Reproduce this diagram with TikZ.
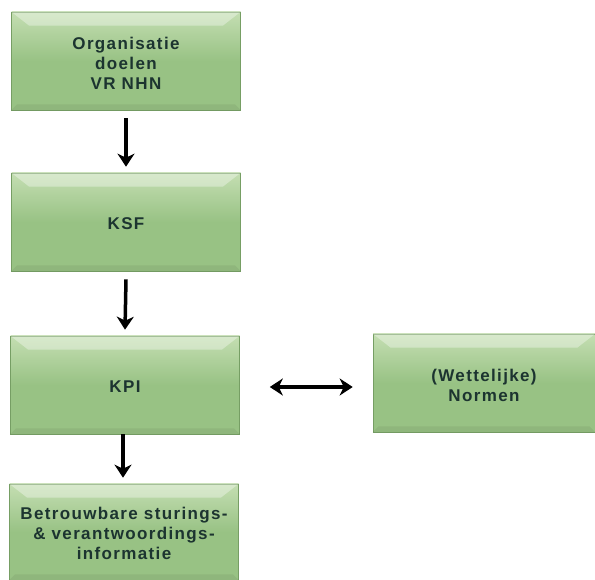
\documentclass[tikz,border=0pt]{standalone}
\usepackage{fontspec}
\setmainfont{Liberation Sans}
\newfontfamily\boxfont[LetterSpace=8]{Liberation Sans}
\usetikzlibrary{arrows.meta}
\definecolor{boxgreen}{RGB}{152,194,132}
\definecolor{boxlight}{RGB}{196,222,178}
\definecolor{boxdark}{RGB}{118,158,100}
\definecolor{txtgreen}{RGB}{28,52,48}
\tikzset{
  box/.style={minimum width=229pt, minimum height=98pt, inner sep=0pt,
    top color=boxlight, bottom color=boxgreen, middle color=boxgreen,
    draw=boxdark, line width=0.6pt},
  label/.style={inner sep=0pt,
    font=\boxfont\bfseries\fontsize{17}{20}\selectfont, text=txtgreen, align=center},
  conn/.style={line width=3.5pt, -{Stealth[length=13pt,width=17pt,inset=4pt]}},
}
\begin{document}
\begin{tikzpicture}[x=1pt,y=1pt]
\useasboundingbox[fill=white] (0,0) rectangle (595,580);
\node[box] (org) at (126,519) {};
\node[box] (ksf) at (126,358) {};
\node[box] (kpi) at (125,195) {};
\node[box, minimum width=222pt] (norm) at (484,197) {};
\node[box, minimum height=96pt] (info) at (124,48) {};
\foreach \n in {org,ksf,kpi,norm,info}{
  \fill[white,opacity=0.35] (\n.north west) -- (\n.north east) -- ([shift={(-18,-14)}]\n.north east) -- ([shift={(18,-14)}]\n.north west) -- cycle;
  \fill[black,opacity=0.06] (\n.south west) -- (\n.south east) -- ([shift={(-6,6)}]\n.south east) -- ([shift={(6,6)}]\n.south west) -- cycle;
}
\node[label] (orgt) at ([yshift=-2pt]org) {Organisatie\\doelen\\VR NHN};
\node[label] (ksft) at ([yshift=-2pt]ksf) {KSF};
\node[label] (kpit) at ([yshift=-2pt]kpi) {KPI};
\node[label] (normt) at ([yshift=-2pt]norm) {(Wettelijke)\\Normen};
\node[label] (infot) at ([yshift=-1pt]info) {Betrouwbare sturings-\\\& verantwoordings-\\informatie};
\coordinate (a1) at ([yshift=-8pt]org.south);
\coordinate (b1) at ([yshift=6pt]ksf.north);
\draw[conn] (a1) -- (b1);
\coordinate (a2) at ([yshift=-8pt]ksf.south);
\coordinate (b2) at ([yshift=6pt]kpi.north);
\draw[conn] (a2) -- (b2);
\coordinate (a3) at ([xshift=-2pt]kpi.south);
\coordinate (b3) at ([xshift=-1pt,yshift=6pt]info.north);
\draw[conn] (a3) -- (b3);
\coordinate (c1) at ([xshift=30pt,yshift=-2pt]kpi.east);
\coordinate (c2) at ([xshift=-20pt,yshift=-4pt]norm.west);
\draw[line width=3.5pt, {Stealth[length=13pt,width=17pt,inset=4pt]}-{Stealth[length=13pt,width=17pt,inset=4pt]}] (c1) -- (c2);
\end{tikzpicture}
\end{document}
